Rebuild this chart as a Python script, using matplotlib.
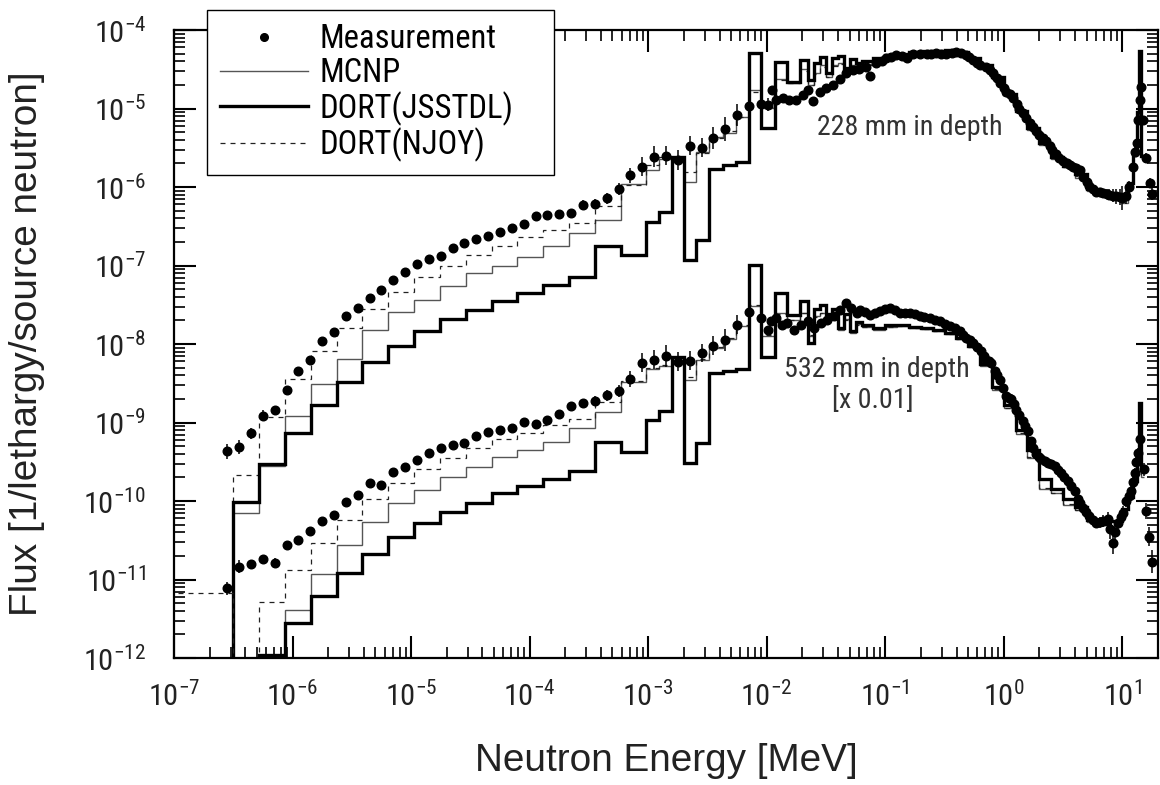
import numpy as np
import matplotlib
matplotlib.use("Agg")
import matplotlib.pyplot as plt
from matplotlib import font_manager as fm
from matplotlib.lines import Line2D
from matplotlib.ticker import LogLocator, NullFormatter

# ---------------- data (log10 of energy in MeV, log10 of flux) ----------------
EDGES_LOG = [-7.3, -6.5, -6.281, -6.064, -5.845, -5.628, -5.412, -5.193, -4.974, -4.757,
             -4.538, -4.321, -4.103, -3.886, -3.669, -3.45, -3.233, -3.016, -2.908, -2.80,
             -2.70, -2.593, -2.484, -2.368, -2.256, -2.149, -2.045, -1.933, -1.826, -1.72,
             -1.655, -1.60, -1.55, -1.50, -1.45, -1.40, -1.35, -1.30, -1.25, -1.20,
             -1.10, -1.00, -0.90, -0.80, -0.70, -0.60, -0.50, -0.40, -0.30, -0.20,
             -0.10, 0.00, 0.10, 0.20, 0.30, 0.40, 0.50, 0.60, 0.70, 0.80,
             0.90, 1.00, 1.05, 1.09, 1.12, 1.14, 1.16, 1.18]

# 228 mm depth
UP_MCNP = [-13, -10.149, -9.556, -8.911, -8.508, -8.186, -7.817, -7.597, -7.435, -7.257,
           -7.096, -7.011, -6.892, -6.748, -6.587, -6.417, -5.963, -5.781, -5.641, -5.620,
           -5.930, -5.548, -5.365, -5.306, -5.103, -4.763, -4.997, -4.620, -4.670, -4.500,
           -4.700, -4.550, -4.450, -4.600, -4.450, -4.420, -4.520, -4.450, -4.460, -4.430,
           -4.380, -4.330, -4.310, -4.290, -4.270, -4.270, -4.270, -4.290, -4.370, -4.470,
           -4.620, -4.820, -5.050, -5.270, -5.460, -5.640, -5.750, -5.880, -6.050, -6.120,
           -6.150, -6.200, -6.000, -5.600, -5.100, -4.300, -5.600]
UP_JSSTDL = [-13, -10.014, -9.534, -9.131, -8.780, -8.482, -8.228, -8.020, -7.838, -7.681,
             -7.562, -7.456, -7.350, -7.244, -7.143, -6.757, -6.863, -6.447, -6.324, -5.612,
             -6.926, -6.672, -5.773, -5.718, -5.676, -4.297, -5.251, -4.411, -4.657, -4.382,
             -4.640, -4.420, -4.340, -4.550, -4.360, -4.330, -4.480, -4.370, -4.420, -4.400,
             -4.360, -4.320, -4.300, -4.280, -4.270, -4.270, -4.260, -4.280, -4.360, -4.450,
             -4.600, -4.810, -5.030, -5.250, -5.440, -5.620, -5.730, -5.830, -6.020, -6.090,
             -6.120, -6.100, -5.950, -5.550, -5.050, -4.270, -5.600]
UP_NJOY = [-13, -9.674, -8.930, -8.444, -8.093, -7.795, -7.553, -7.337, -7.151, -7.011,
           -6.863, -6.748, -6.638, -6.545, -6.455, -6.239, -5.970, -5.718, -5.620, -5.654,
           -5.815, -5.561, -5.370, -5.285, -5.103, -4.785, -4.980, -4.640, -4.680, -4.520,
           -4.700, -4.560, -4.470, -4.600, -4.460, -4.430, -4.500, -4.460, -4.470, -4.440,
           -4.390, -4.340, -4.310, -4.290, -4.280, -4.280, -4.280, -4.300, -4.370, -4.470,
           -4.620, -4.820, -5.040, -5.260, -5.450, -5.630, -5.740, -5.860, -6.040, -6.110,
           -6.140, -6.150, -5.980, -5.580, -5.080, -4.290, -5.600]

# 532 mm depth (x 0.01)
LO_MCNP = [-13, -13, -13, -11.392, -10.925, -10.561, -10.268, -10.031, -9.865, -9.696,
           -9.564, -9.441, -9.344, -9.250, -9.076, -8.869, -8.482, -8.317, -8.284, -8.177,
           -8.462, -8.198, -8.050, -7.930, -7.775, -7.520, -7.893, -7.600, -7.700, -7.600,
           -7.900, -7.640, -7.600, -7.700, -7.620, -7.820, -7.680, -7.860, -7.750, -7.780,
           -7.820, -7.780, -7.770, -7.790, -7.810, -7.830, -7.870, -7.930, -8.040, -8.280,
           -8.580, -8.820, -9.150, -9.450, -9.850, -9.900, -10.050, -10.120, -10.270, -10.310,
           -10.250, -10.120, -9.970, -9.770, -9.460, -8.850, -9.700]
LO_JSSTDL = [-13, -13, -11.960, -11.557, -11.210, -10.921, -10.671, -10.459, -10.285, -10.141,
             -10.022, -9.903, -9.810, -9.725, -9.622, -9.254, -9.373, -8.971, -8.856, -8.169,
             -9.513, -9.258, -8.368, -8.338, -8.313, -6.990, -8.164, -7.350, -7.626, -7.448,
             -7.990, -7.560, -7.500, -7.620, -7.550, -7.800, -7.620, -7.840, -7.720, -7.760,
             -7.800, -7.760, -7.760, -7.780, -7.800, -7.820, -7.860, -7.920, -8.020, -8.250,
             -8.550, -8.780, -9.100, -9.350, -9.720, -9.850, -9.980, -10.080, -10.240, -10.290,
             -10.260, -10.100, -9.950, -9.750, -9.450, -8.750, -9.600]
LO_NJOY = [-11.167, -13, -11.286, -10.878, -10.531, -10.243, -9.980, -9.767, -9.598, -9.450,
           -9.331, -9.216, -9.131, -9.034, -8.951, -8.737, -8.470, -8.300, -8.270, -8.190,
           -8.420, -8.190, -8.040, -7.920, -7.760, -7.500, -7.880, -7.620, -7.690, -7.610,
           -7.880, -7.650, -7.610, -7.700, -7.630, -7.810, -7.690, -7.850, -7.760, -7.780,
           -7.810, -7.780, -7.770, -7.790, -7.810, -7.830, -7.870, -7.930, -8.040, -8.270,
           -8.570, -8.810, -9.140, -9.440, -9.830, -9.900, -10.040, -10.110, -10.260, -10.300,
           -10.250, -10.110, -9.960, -9.760, -9.450, -8.830, -9.700]

# measured points below 10 keV
MEAS_X_COARSE = [-6.55, -6.45, -6.35, -6.25, -6.15, -6.05, -5.95, -5.85, -5.75, -5.65,
                 -5.55, -5.45, -5.35, -5.25, -5.15, -5.05, -4.95, -4.85, -4.75, -4.65,
                 -4.55, -4.45, -4.35, -4.25, -4.15, -4.05, -3.95, -3.85, -3.75, -3.65,
                 -3.55, -3.45, -3.35, -3.25, -3.15, -3.05, -2.95, -2.85, -2.75, -2.65,
                 -2.55, -2.45, -2.35, -2.25, -2.15, -2.05]
UP_MEAS_COARSE = [-9.368, -9.312, -9.134, -8.913, -8.846, -8.582, -8.345, -8.205, -7.963, -7.850,
                  -7.649, -7.543, -7.415, -7.310, -7.183, -7.077, -6.982, -6.915, -6.873, -6.779,
                  -6.715, -6.657, -6.622, -6.567, -6.524, -6.473, -6.368, -6.355, -6.350, -6.330,
                  -6.227, -6.217, -6.142, -6.023, -5.853, -5.739, -5.612, -5.599, -5.654, -5.472,
                  -5.497, -5.378, -5.260, -5.081, -4.967, -4.941]
UP_ERR_COARSE = [0.10, 0.09, 0.07, 0.07, 0.06, 0.05, 0.05, 0.05, 0.04, 0.04,
                 0.04, 0.04, 0.04, 0.04, 0.04, 0.04, 0.04, 0.04, 0.04, 0.04,
                 0.04, 0.04, 0.04, 0.04, 0.04, 0.04, 0.05, 0.05, 0.05, 0.05,
                 0.06, 0.06, 0.07, 0.08, 0.10, 0.12, 0.13, 0.12, 0.13, 0.12,
                 0.12, 0.14, 0.15, 0.14, 0.10, 0.25]
LO_MEAS_COARSE = [-11.112, -10.836, -10.807, -10.743, -10.785, -10.565, -10.497, -10.387, -10.255, -10.175,
                  -10.009, -9.925, -9.767, -9.793, -9.627, -9.569, -9.483, -9.386, -9.322, -9.284,
                  -9.258, -9.174, -9.123, -9.097, -9.076, -8.996, -9.017, -8.962, -8.888, -8.790,
                  -8.756, -8.727, -8.656, -8.601, -8.444, -8.241, -8.198, -8.148, -8.228, -8.215,
                  -8.114, -8.020, -7.944, -7.753, -7.597, -7.673]
LO_ERR_COARSE = [0.08, 0.08, 0.06, 0.05, 0.06, 0.04, 0.04, 0.04, 0.04, 0.04,
                 0.04, 0.04, 0.04, 0.04, 0.04, 0.04, 0.04, 0.04, 0.04, 0.04,
                 0.04, 0.04, 0.04, 0.04, 0.04, 0.04, 0.05, 0.05, 0.05, 0.05,
                 0.06, 0.06, 0.07, 0.08, 0.10, 0.12, 0.12, 0.14, 0.12, 0.12,
                 0.12, 0.12, 0.14, 0.12, 0.10, 0.12]

# unfolded spectra above 10 keV: (log10 E, log10 flux, error in decades)
UP_MEAS_DENSE = [
    (-1.99, -4.95, 0.08), (-1.955, -4.77, 0.05), (-1.92, -4.89, 0.05), (-1.86, -4.86, 0.04),
    (-1.81, -4.89, 0.04), (-1.75, -4.89, 0.04), (-1.69, -4.83, 0.04), (-1.65, -4.76, 0.04),
    (-1.61, -4.91, 0.06), (-1.55, -4.79, 0.04), (-1.50, -4.74, 0.04), (-1.44, -4.70, 0.03),
    (-1.38, -4.62, 0.03), (-1.33, -4.55, 0.03), (-1.27, -4.51, 0.03), (-1.22, -4.50, 0.03),
    (-1.16, -4.47, 0.03), (-1.13, -4.59, 0.03), (-1.08, -4.42, 0.03), (-1.03, -4.39, 0.03),
    (-0.99, -4.36, 0.02), (-0.95, -4.34, 0.02), (-0.91, -4.32, 0.02), (-0.86, -4.33, 0.02),
    (-0.82, -4.36, 0.02), (-0.77, -4.30, 0.02), (-0.71, -4.30, 0.02), (-0.65, -4.30, 0.02),
    (-0.61, -4.30, 0.02), (-0.57, -4.29, 0.02), (-0.53, -4.30, 0.02), (-0.49, -4.30, 0.02),
    (-0.44, -4.29, 0.02), (-0.40, -4.28, 0.02), (-0.36, -4.29, 0.02), (-0.32, -4.32, 0.02),
    (-0.29, -4.35, 0.02), (-0.26, -4.38, 0.02), (-0.23, -4.42, 0.02), (-0.20, -4.45, 0.02),
    (-0.15, -4.47, 0.02), (-0.12, -4.51, 0.02), (-0.09, -4.55, 0.02), (-0.06, -4.61, 0.02),
    (-0.035, -4.68, 0.02), (0.00, -4.74, 0.02), (0.02, -4.79, 0.02), (0.05, -4.82, 0.02),
    (0.08, -4.86, 0.02), (0.11, -4.94, 0.02), (0.13, -5.00, 0.02), (0.16, -5.06, 0.02),
    (0.19, -5.12, 0.02), (0.22, -5.18, 0.02), (0.245, -5.23, 0.02), (0.27, -5.29, 0.02),
    (0.30, -5.34, 0.02), (0.33, -5.38, 0.02), (0.36, -5.42, 0.02), (0.39, -5.48, 0.02),
    (0.41, -5.53, 0.02), (0.44, -5.58, 0.02), (0.47, -5.63, 0.02), (0.50, -5.67, 0.02),
    (0.53, -5.70, 0.02), (0.56, -5.72, 0.02), (0.58, -5.74, 0.02), (0.61, -5.76, 0.02),
    (0.64, -5.78, 0.02), (0.67, -5.87, 0.03), (0.70, -5.94, 0.03), (0.72, -5.99, 0.03),
    (0.75, -6.03, 0.03), (0.78, -6.06, 0.04), (0.81, -6.07, 0.05), (0.84, -6.08, 0.06),
    (0.87, -6.09, 0.06), (0.89, -6.10, 0.07), (0.92, -6.11, 0.08), (0.95, -6.12, 0.10),
    (0.98, -6.13, 0.10), (1.00, -6.14, 0.15), (1.03, -6.12, 0.10), (1.06, -6.00, 0.08),
    (1.09, -5.74, 0.08), (1.11, -5.55, 0.06), (1.12, -5.44, 0.06), (1.13, -5.15, 0.06),
    (1.145, -4.89, 0.08), (1.16, -4.72, 0.10), (1.173, -5.15, 0.06), (1.20, -5.63, 0.06),
    (1.23, -5.95, 0.06), (1.25, -6.09, 0.08)]
LO_MEAS_DENSE = [
    (-1.989, -7.817, 0.04), (-1.96, -7.711, 0.04), (-1.92, -7.668, 0.04), (-1.87, -7.753, 0.04),
    (-1.83, -7.732, 0.04), (-1.77, -7.817, 0.04), (-1.71, -7.753, 0.04), (-1.65, -7.711, 0.04),
    (-1.60, -7.795, 0.04), (-1.54, -7.732, 0.04), (-1.49, -7.690, 0.03), (-1.43, -7.648, 0.03),
    (-1.38, -7.562, 0.03), (-1.33, -7.477, 0.03), (-1.29, -7.541, 0.03), (-1.24, -7.605, 0.03),
    (-1.216, -7.562, 0.03), (-1.17, -7.590, 0.03), (-1.131, -7.626, 0.03), (-1.09, -7.600, 0.03),
    (-1.047, -7.584, 0.03), (-1.00, -7.560, 0.03), (-0.962, -7.541, 0.03), (-0.92, -7.570, 0.03),
    (-0.878, -7.605, 0.03), (-0.836, -7.600, 0.03), (-0.794, -7.605, 0.03), (-0.75, -7.620, 0.03),
    (-0.710, -7.648, 0.03), (-0.67, -7.660, 0.03), (-0.626, -7.668, 0.03), (-0.58, -7.690, 0.03),
    (-0.541, -7.711, 0.03), (-0.50, -7.740, 0.03), (-0.457, -7.775, 0.03), (-0.415, -7.800, 0.03),
    (-0.373, -7.838, 0.03), (-0.345, -7.880, 0.03), (-0.316, -7.923, 0.03), (-0.288, -7.950, 0.03),
    (-0.260, -7.986, 0.03), (-0.225, -8.040, 0.03), (-0.190, -8.093, 0.03), (-0.17, -8.150, 0.03),
    (-0.147, -8.198, 0.03), (-0.125, -8.220, 0.03), (-0.105, -8.241, 0.03), (-0.078, -8.347, 0.03),
    (-0.055, -8.400, 0.03), (-0.035, -8.453, 0.03), (-0.007, -8.559, 0.03), (0.021, -8.665, 0.03),
    (0.04, -8.690, 0.03), (0.063, -8.707, 0.03), (0.085, -8.770, 0.03), (0.105, -8.835, 0.03),
    (0.13, -8.910, 0.03), (0.161, -8.983, 0.03), (0.18, -9.050, 0.03), (0.203, -9.111, 0.03),
    (0.232, -9.238, 0.03), (0.25, -9.320, 0.03), (0.274, -9.407, 0.03), (0.295, -9.440, 0.03),
    (0.316, -9.471, 0.03), (0.345, -9.490, 0.03), (0.372, -9.513, 0.03), (0.40, -9.530, 0.03),
    (0.428, -9.556, 0.03), (0.455, -9.600, 0.03), (0.485, -9.640, 0.03), (0.51, -9.690, 0.03),
    (0.541, -9.747, 0.03), (0.57, -9.810, 0.03), (0.597, -9.874, 0.04), (0.625, -9.980, 0.04),
    (0.645, -10.030, 0.04), (0.667, -10.086, 0.05), (0.695, -10.140, 0.05), (0.723, -10.192, 0.06),
    (0.75, -10.240, 0.06), (0.780, -10.277, 0.07), (0.81, -10.270, 0.07), (0.836, -10.255, 0.08),
    (0.878, -10.234, 0.10), (0.90, -10.360, 0.12), (0.920, -10.531, 0.15), (0.94, -10.400, 0.10),
    (0.962, -10.277, 0.10), (0.985, -10.200, 0.08), (1.004, -10.149, 0.08), (1.033, -10.001, 0.08),
    (1.055, -9.940, 0.06), (1.075, -9.874, 0.06), (1.09, -9.760, 0.06), (1.103, -9.640, 0.06),
    (1.117, -9.500, 0.06), (1.131, -9.386, 0.06), (1.145, -9.216, 0.08), (1.187, -9.598, 0.08),
    (1.201, -10.128, 0.10), (1.229, -10.454, 0.12), (1.252, -10.772, 0.15)]

LEGEND_LABELS = ["Measurement", "MCNP", "DORT(JSSTDL)", "DORT(NJOY)"]

# ---------------- fonts: pick a narrow sans if one is installed ----------------
STRETCH_NUM = {"ultra-condensed": 100, "extra-condensed": 200, "condensed": 300,
               "semi-condensed": 400, "normal": 500}


def _snum(s):
    return STRETCH_NUM.get(s, 500) if isinstance(s, str) else int(s)


def pick_narrow():
    fl = fm.fontManager.ttflist

    def regular(f):
        return f.style == "normal" and f.weight in (400, "normal", "regular", "book")

    for name in ("Liberation Sans Narrow", "Arial Narrow", "Roboto Condensed",
                 "Noto Sans Condensed", "Open Sans Condensed", "PT Sans Narrow"):
        for f in fl:
            if f.name == name and regular(f):
                return f.name, _snum(f.stretch)
    for name in ("Liberation Sans", "Noto Sans", "Roboto", "Open Sans", "DejaVu Sans",
                 "Lato", "Inter"):
        for f in fl:
            if f.name == name and regular(f) and _snum(f.stretch) < 500:
                return f.name, _snum(f.stretch)
    return "Liberation Sans", 500


NARROW_NAME, NARROW_STRETCH = pick_narrow()
STRETCH_NAME = {v: k for k, v in STRETCH_NUM.items()}.get(NARROW_STRETCH, "normal")
NARROW = [NARROW_NAME, "DejaVu Sans"]
WIDE = ["Liberation Sans", "DejaVu Sans"]
plt.rcParams["font.family"] = NARROW
plt.rcParams["font.stretch"] = STRETCH_NAME
plt.rcParams["mathtext.fontset"] = "custom"
for k in ("rm", "it", "bf", "sf"):
    plt.rcParams["mathtext." + k] = "%s:stretch=%d" % (NARROW_NAME, NARROW_STRETCH)

# ---------------- figure ----------------
W, H = 1160, 785
fig = plt.figure(figsize=(W / 100, H / 100), dpi=100)
renderer = fig.canvas.get_renderer()


def text_px(s, size, **kw):
    t = fig.text(0, 0, s, fontsize=size, **kw)
    bb = t.get_window_extent(renderer)
    t.remove()
    return bb.width, bb.height


def fit(s, target_w, size0, cap, **kw):
    w, _ = text_px(s, size0, **kw)
    return min(cap, size0 * target_w / w)


LEG_FS = fit("Measurement", 177, 25, 25.5)
ANN_FS = fit("228 mm in depth", 186, 22.5, 23)
TICK_FS = min(24.0, LEG_FS * 0.93)
LAB_FS = fit("Neutron Energy [MeV]", 384, 28, 29, family=WIDE, fontstretch="normal")

L, R, T, B = 174, 1158, 30, 658
ax = fig.add_axes([L / W, 1 - B / H, (R - L) / W, (B - T) / H])
ax.set_xscale("log")
ax.set_yscale("log")
ax.set_xlim(1e-7, 20)
ax.set_ylim(1e-12, 1e-4)

edges = 10.0 ** np.array(EDGES_LOG)
THIN = dict(color="#555555", lw=1.0)
THICK = dict(color="black", lw=2.4)
DASH = dict(color="#222222", lw=0.9, linestyle=(0, (4, 4)))
for vals, st in ((UP_MCNP, THIN), (UP_NJOY, DASH), (UP_JSSTDL, THICK),
                 (LO_MCNP, THIN), (LO_NJOY, DASH), (LO_JSSTDL, THICK)):
    ax.stairs(10.0 ** np.array(vals), edges, baseline=None, **st)


def meas(xs, ys, es):
    x = 10.0 ** np.asarray(xs)
    ly = np.asarray(ys)
    e = np.asarray(es)
    y = 10.0 ** ly
    lo = y - 10.0 ** (ly - e)
    hi = 10.0 ** (ly + e) - y
    ax.errorbar(x, y, yerr=[lo, hi], fmt="o", ms=6.2, mfc="black", mec="black",
                ecolor="black", elinewidth=1.1, capsize=0, zorder=5)


meas(MEAS_X_COARSE, UP_MEAS_COARSE, UP_ERR_COARSE)
meas(MEAS_X_COARSE, LO_MEAS_COARSE, LO_ERR_COARSE)
for dense in (UP_MEAS_DENSE, LO_MEAS_DENSE):
    meas([p[0] for p in dense], [p[1] for p in dense], [p[2] for p in dense])

# ticks
for axis in (ax.xaxis, ax.yaxis):
    axis.set_major_locator(LogLocator(base=10, numticks=40))
    axis.set_minor_locator(LogLocator(base=10, subs=np.arange(2, 10), numticks=40))
    axis.set_minor_formatter(NullFormatter())
ax.tick_params(which="both", direction="in", top=True, right=True, color="black")
ax.tick_params(which="major", length=16, width=1.5, labelsize=TICK_FS, labelcolor="#222222")
ax.tick_params(which="minor", length=8, width=1.2)
ax.tick_params(axis="x", which="major", pad=17)
ax.tick_params(axis="y", which="major", pad=20)
for s in ax.spines.values():
    s.set_linewidth(1.6)

ax.set_xlabel("Neutron Energy [MeV]", fontsize=LAB_FS, family=WIDE, fontstretch="normal",
              color="#222222")
ax.xaxis.set_label_coords(0.5, -0.135)
ax.set_ylabel("Flux [1/lethargy/source neutron]", fontsize=LAB_FS, family=WIDE,
              fontstretch="normal", color="#222222")
ax.yaxis.set_label_coords(-0.131, 0.5)

ax.text(0.748, 0.833, "228 mm in depth", transform=ax.transAxes, ha="center",
        va="baseline", fontsize=ANN_FS, color="#333333")
ax.text(0.714, 0.4475, "532 mm in depth", transform=ax.transAxes, ha="center",
        va="baseline", fontsize=ANN_FS, color="#333333")
ax.text(0.7104, 0.398, "[x 0.01]", transform=ax.transAxes, ha="center",
        va="baseline", fontsize=ANN_FS, color="#333333")

# legend (box spans the same area as in the original figure)
px_per_em = LEG_FS * 100 / 72
_, row_h = text_px("Measurement", LEG_FS)
handles = [Line2D([], [], ls="none", marker="o", ms=5.5, color="black"),
           Line2D([], [], **THIN),
           Line2D([], [], **THICK),
           Line2D([], [], color="#222222", lw=0.9, linestyle=(0, (4, 4)))]
leg = ax.legend(handles, LEGEND_LABELS, loc="upper left",
                bbox_to_anchor=(207 / W, 1 - 174 / H, 347 / W, 164 / H),
                bbox_transform=fig.transFigure, mode="expand",
                borderaxespad=0, frameon=True, fancybox=False, framealpha=1,
                edgecolor="black", fontsize=LEG_FS,
                handlelength=88 / px_per_em, handletextpad=12 / px_per_em,
                borderpad=13 / px_per_em,
                labelspacing=max(-0.3, (34 - row_h) / px_per_em))
leg.get_frame().set_linewidth(1.0)
leg.set_zorder(10)

fig.savefig("out.png", dpi=100, facecolor="white")
